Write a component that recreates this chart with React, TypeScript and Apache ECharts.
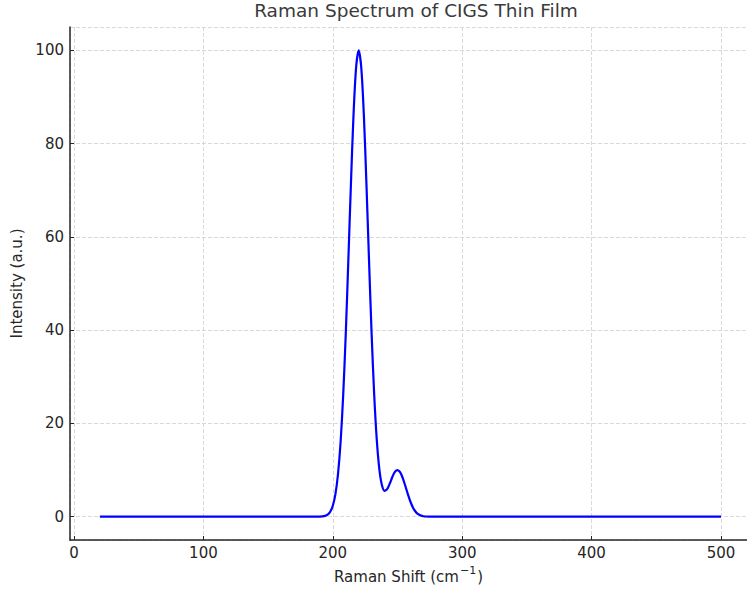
import React, { useEffect, useRef } from "react";
import * as echarts from "echarts";

const ramanShift = [
  20, 40, 60, 80, 100, 120, 140, 160, 180, 186, 188,
  190, 192, 194, 196, 198, 200, 202, 204, 206, 208, 210, 212, 214, 216, 218,
  220, 222, 224, 226, 228, 230, 232, 234, 236, 238, 240, 242, 244, 246, 248,
  250, 252, 254, 256, 258, 260, 262, 264, 266, 268, 270, 272, 274, 276,
  280, 300, 320, 340, 360, 380, 400, 420, 440, 460, 480, 500,
];

const intensity = [
  0, 0, 0, 0, 0, 0, 0, 0, 0, 0, 0.01,
  0.02, 0.06, 0.18, 0.45, 1.07, 2.35, 4.79, 9.06, 15.9, 25.9, 39.1, 54.9, 71.3, 86.1, 96.3,
  100, 96.3, 86.1, 71.3, 54.9, 39.2, 26.1, 16.4, 10.1, 6.73, 5.55, 5.89, 7.08, 8.51, 9.61,
  10.0, 9.55, 8.33, 6.63, 4.82, 3.2, 1.94, 1.07, 0.54, 0.25, 0.1, 0.04, 0.01, 0,
  0, 0, 0, 0, 0, 0, 0, 0, 0, 0, 0, 0,
];

const chartTitle = "Raman Spectrum of CIGS Thin Film";
const xAxisTitleMain = "Raman Shift (cm";
const xAxisTitleSup = "−1";
const xAxisTitleEnd = ")";
const yAxisTitle = "Intensity (a.u.)";

export default function App() {
  const ref = useRef<HTMLDivElement>(null);

  useEffect(() => {
    if (!ref.current) return;
    const chart = echarts.init(ref.current, undefined, { renderer: "svg" });
    const font = "DejaVu Sans";
    const gridLine = { show: true, lineStyle: { color: "#cfcfcf", type: [4, 2] as any, width: 0.8 } };
    chart.setOption({
      animation: false,
      backgroundColor: "#ffffff",
      title: {
        text: chartTitle,
        left: 411,
        top: -4,
        textAlign: "center",
        textStyle: { fontFamily: font, fontSize: 18.5, fontWeight: "normal", color: "#3a3a3a" },
      },
      grid: { left: 70, right: 0, top: 27, bottom: 53, containLabel: false },
      xAxis: {
        type: "value",
        min: -3.1,
        max: 520.1,
        name: `{n|${xAxisTitleMain}}{s|${xAxisTitleSup}}{n|${xAxisTitleEnd}}`,
        nameLocation: "middle",
        nameGap: 25,
        nameTextStyle: {
          fontFamily: font, fontSize: 15, color: "#262626",
          rich: {
            n: { fontFamily: font, fontSize: 15, color: "#262626", lineHeight: 24 },
            s: { fontFamily: font, fontSize: 11, color: "#262626", lineHeight: 10, verticalAlign: "top", padding: [0, 1, 0, 1] },
          },
        },
        axisLine: { show: true, onZero: false, lineStyle: { color: "#262626", width: 1.5 } },
        axisTick: { show: true, inside: true, length: 4, lineStyle: { color: "#262626", width: 1 } },
        axisLabel: {
          fontFamily: font, fontSize: 15, color: "#262626", margin: 5,
          showMinLabel: false, showMaxLabel: false,
        },
        splitLine: gridLine,
      },
      yAxis: {
        type: "value",
        min: -5,
        max: 105,
        name: yAxisTitle,
        nameLocation: "middle",
        nameGap: 36,
        nameTextStyle: { fontFamily: font, fontSize: 15, color: "#262626" },
        axisLine: { show: true, onZero: false, lineStyle: { color: "#262626", width: 1.5 } },
        axisTick: { show: true, inside: true, length: 4, lineStyle: { color: "#262626", width: 1 } },
        axisLabel: {
          fontFamily: font, fontSize: 15, color: "#262626", margin: 6,
          showMinLabel: false, showMaxLabel: false,
        },
        splitLine: gridLine,
      },
      series: [
        {
          type: "line",
          data: ramanShift.map((x, i) => [x, intensity[i]]),
          showSymbol: false,
          smooth: 0.3,
          lineStyle: { color: "#0000ff", width: 2.2 },
          itemStyle: { color: "#0000ff" },
        },
      ],
    });
    return () => chart.dispose();
  }, []);

  return <div ref={ref} style={{ width: 747, height: 593, position: "fixed", left: 0, top: 0 }} />;
}
